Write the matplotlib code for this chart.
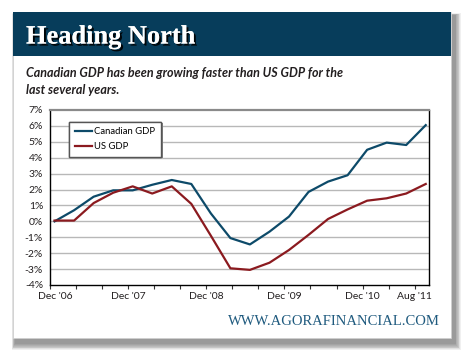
import matplotlib
matplotlib.use("Agg")
import matplotlib.pyplot as plt
import matplotlib.patches as mpatches
import matplotlib.patheffects as pe
import matplotlib.transforms as mtransforms
import numpy as np

# ---- data ----
months = [0.7 + 3 * i for i in range(20)]  # months since Dec '06 (quarterly)
canadian_gdp = [0.0, 0.7, 1.55, 1.95, 1.95, 2.3, 2.6, 2.35, 0.5, -1.05,
                -1.45, -0.65, 0.3, 1.85, 2.5, 2.9, 4.5, 4.95, 4.8, 6.05]
us_gdp = [0.05, 0.05, 1.15, 1.8, 2.2, 1.75, 2.2, 1.1, -0.9, -2.95,
          -3.05, -2.6, -1.8, -0.85, 0.15, 0.75, 1.3, 1.45, 1.75, 2.35]
xtick_pos = [0, 12, 24, 36, 48, 56]
xtick_labels = ["Dec '06", "Dec '07", "Dec '08", "Dec '09", "Dec '10", "Aug '11"]
ytick_vals = list(range(-4, 8))

W, H = 470, 358
fig = plt.figure(figsize=(W / 100, H / 100), dpi=100)
fig.patch.set_facecolor("white")

# background axes in pixel coords
bg = fig.add_axes([0, 0, 1, 1])
bg.set_xlim(0, W)
bg.set_ylim(H, 0)
bg.axis("off")

# drop shadow
px0, py0, px1, py1 = 13, 12, 451, 338
for i in range(8):
    grow = 8 - i
    bg.add_patch(mpatches.Rectangle((px0 + 2 - grow * 0.4, py0 + 3 - grow * 0.2),
                                    (px1 - px0) + grow * 1.1 + 2, (py1 - py0) + grow * 1.1 + 2,
                                    facecolor="black", alpha=0.06, edgecolor="none", zorder=1))
# panel
bg.add_patch(mpatches.Rectangle((px0, py0), px1 - px0, py1 - py0, facecolor="white",
                                edgecolor="#d0d0d0", lw=0.5, zorder=2))
# header
bg.add_patch(mpatches.Rectangle((px0, py0), px1 - px0, 44, facecolor="#073d5b",
                                edgecolor="none", zorder=3))
bg.text(26, 43.5, "Heading North", fontsize=19, family="Liberation Serif", weight="bold",
        color="white", va="baseline", ha="left", zorder=4,
        path_effects=[pe.withSimplePatchShadow(offset=(1.5, -1.5), shadow_rgbFace="black", alpha=0.9),
                      pe.Normal()])
# subtitle
bg.text(26, 77, "Canadian GDP has been growing faster than US GDP for the",
        fontsize=9.0, family="Lato", weight="bold", style="italic", color="#231f20",
        va="baseline", ha="left", zorder=4)
bg.text(26, 94, "last several years.",
        fontsize=9.0, family="Lato", weight="bold", style="italic", color="#231f20",
        va="baseline", ha="left", zorder=4)
# footer
bg.text(440, 325, "WWW.AGORAFINANCIAL.COM", fontsize=10.5, family="Liberation Serif",
        color="#1f5a7e", va="baseline", ha="right", zorder=4)

# main chart axes
ax = fig.add_axes([50 / W, 1 - 285 / H, (429 - 50) / W, (285 - 110) / H])
ax.set_zorder(5)
ax.set_facecolor("white")
ax.set_xlim(0, 58.2)
ax.set_ylim(-4, 7)

ax.set_yticks(ytick_vals)
ax.set_yticklabels([f"{v}%" for v in ytick_vals], family="Lato", fontsize=7.5, color="#231f20")
for v in ytick_vals[1:-1]:
    ax.axhline(v, color="#b8b8b8", lw=1.0, zorder=1)

ax.set_xticks(xtick_pos)
ax.set_xticklabels(xtick_labels, family="Lato", fontsize=7.5, color="#231f20")
ax.set_xticks(np.arange(0, 57, 4), minor=True)
ax.tick_params(axis="x", which="both", direction="out", length=3, width=0.8, color="#333333", pad=2)
ax.tick_params(axis="y", which="both", length=0, pad=5)
# nudge first x label
lab0 = ax.get_xticklabels()[0]
lab0.set_transform(lab0.get_transform() + mtransforms.ScaledTranslation(5 / 100, 0, fig.dpi_scale_trans))

for side in ["left", "bottom", "right"]:
    ax.spines[side].set_color("black")
    ax.spines[side].set_linewidth(1.0)
ax.spines["top"].set_color("#8a8a8a")
ax.spines["top"].set_linewidth(1.6)

ax.plot(months, canadian_gdp, color="#0d4a69", lw=1.6, zorder=3, label="Canadian GDP")
ax.plot(months, us_gdp, color="#8b1a1f", lw=1.6, zorder=3, label="US GDP")

leg = ax.legend(loc="upper left", bbox_to_anchor=((69 - 50) / (429 - 50), 1 - (121.5 - 110) / 175),
                frameon=True, fancybox=False, shadow=False, framealpha=1,
                prop={"family": "Lato", "size": 6.8},
                handlelength=1.8, handletextpad=0.3, borderpad=0.6, labelspacing=0.65,
                borderaxespad=0)
frame = leg.get_frame()
frame.set_facecolor("white")
frame.set_edgecolor("#555555")
frame.set_linewidth(1.0)
frame.set_path_effects([pe.withSimplePatchShadow(offset=(1, -1), shadow_rgbFace="#888888", alpha=1),
                        pe.Normal()])
leg.set_zorder(6)

fig.savefig("out.png", dpi=100)
